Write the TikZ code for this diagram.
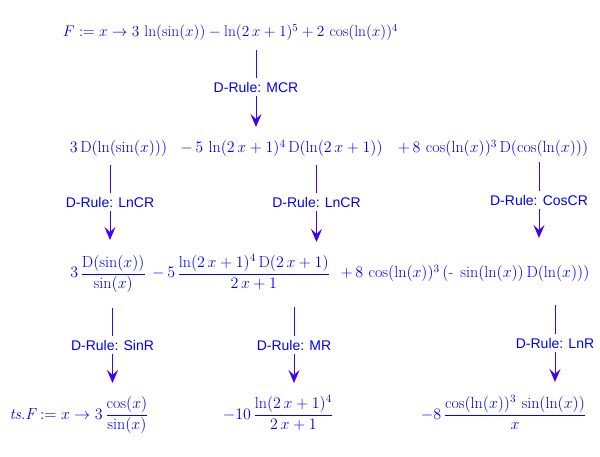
\RequirePackage{fix-cm}
\documentclass[tikz,border=0pt]{standalone}
\usepackage{amsmath}
\usepackage{fontspec}
\newfontfamily\rulefont{Liberation Sans}
\usetikzlibrary{arrows.meta}
\definecolor{mapleblue}{RGB}{0,0,255}
\definecolor{ruleblue}{RGB}{64,0,255}
\begin{document}
\begin{tikzpicture}[x=1pt,y=-1pt,
    expr/.style={text=mapleblue, inner sep=0pt, anchor=base, font=\fontsize{16}{19}\selectfont},
    rulelabel/.style={text=mapleblue, inner sep=4pt, font=\rulefont\fontsize{14}{17}\selectfont},
    ruleline/.style={draw=ruleblue, line width=0.9pt},
    rulearrow/.style={ruleline, -{Stealth[length=13pt,width=11pt,inset=5pt]}}]
  \useasboundingbox (0,0) rectangle (600,457);
  \node [expr, font=\fontsize{15.4}{18}\selectfont] (f) at (230.5,37) {$F := x \rightarrow 3\,\ln(\sin(x)) - \ln(2\,x+1)^5 + 2\,\cos(\ln(x))^4$};
  \node [expr] (a1) at (118.5,153) {$3\,\mathrm{D}(\ln(\sin(x)))$};
  \node [expr] (a2) at (281.5,153) {$-\,5\,\ln(2\,x+1)^4\,\mathrm{D}(\ln(2\,x+1))$};
  \node [expr] (a3) at (493,153) {$+\,8\,\cos(\ln(x))^3\,\mathrm{D}(\cos(\ln(x)))$};
  \node [expr] (b1) at (108,278) {$\displaystyle 3\,\frac{\mathrm{D}(\sin(x))}{\sin(x)}$};
  \node [expr] (b2) at (241,278) {$\displaystyle -\,5\,\frac{\ln(2\,x+1)^4\,\mathrm{D}(2\,x+1)}{2\,x+1}$};
  \node [expr] (b3) at (465,278) {$+\,8\,\cos(\ln(x))^3\,(\mbox{-}\;\sin(\ln(x))\,\mathrm{D}(\ln(x)))$};
  \node [expr] (c1) at (79,419) {$\displaystyle \mathit{ts.F} := x \rightarrow 3\,\frac{\cos(x)}{\sin(x)}$};
  \node [expr] (c2) at (278,419) {$\displaystyle -10\,\frac{\ln(2\,x+1)^4}{2\,x+1}$};
  \node [expr] (c3) at (503.5,419) {$\displaystyle -8\,\frac{\cos(\ln(x))^3\,\sin(\ln(x))}{x}$};
  \coordinate (s0) at (256,50);
  \coordinate (t0) at (256,127);
  \node [rulelabel] (r0) at (256,87) {D-Rule: MCR};
  \coordinate (s1) at (110,165);
  \coordinate (t1) at (110,240);
  \node [rulelabel] (r1) at (110,202) {D-Rule: LnCR};
  \coordinate (s2) at (316.5,165);
  \coordinate (t2) at (316.5,242);
  \node [rulelabel] (r2) at (316.5,202) {D-Rule: LnCR};
  \coordinate (s3) at (539,162);
  \coordinate (t3) at (539,238);
  \node [rulelabel] (r3) at (539,200) {D-Rule: CosCR};
  \coordinate (s4) at (112.5,308);
  \coordinate (t4) at (112.5,383);
  \node [rulelabel] (r4) at (112.5,345) {D-Rule: SinR};
  \coordinate (s5) at (294,307);
  \coordinate (t5) at (294,383);
  \node [rulelabel] (r5) at (294,345) {D-Rule: MR};
  \coordinate (s6) at (555,305);
  \coordinate (t6) at (555,382);
  \node [rulelabel] (r6) at (555,343) {D-Rule: LnR};
  \foreach \i in {0,...,6} {
    \draw [ruleline] (s\i) -- (r\i);
    \draw [rulearrow] (r\i) -- (t\i);
  }
\end{tikzpicture}
\end{document}
